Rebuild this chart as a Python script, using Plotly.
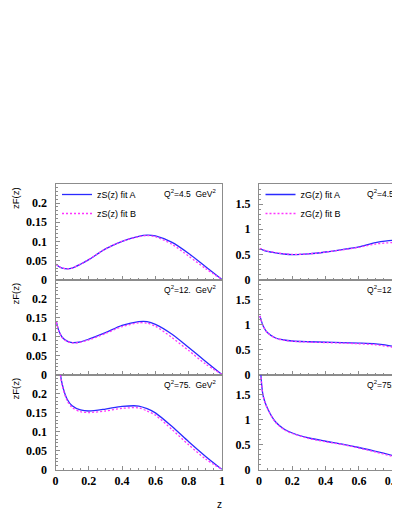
import plotly.graph_objects as go

# ---- data ----
q2_labels = ["Q<sup>2</sup>=4.5  GeV<sup>2</sup>",
             "Q<sup>2</sup>=12.  GeV<sup>2</sup>",
             "Q<sup>2</sup>=75.  GeV<sup>2</sup>"]

# singlet (left column)
z_s = [0.005, 0.02, 0.04, 0.07, 0.1, 0.15, 0.2, 0.3, 0.4, 0.5, 0.55, 0.6, 0.7, 0.8, 0.9, 1.0]
zS_A_45 = [0.040, 0.034, 0.030, 0.028, 0.030, 0.040, 0.052, 0.080, 0.100, 0.113, 0.116, 0.114, 0.097, 0.068, 0.034, 0.0]
zS_B_45 = [0.040, 0.034, 0.030, 0.028, 0.030, 0.040, 0.052, 0.080, 0.100, 0.112, 0.115, 0.112, 0.092, 0.061, 0.029, 0.0]
zS_A_12 = [0.139, 0.115, 0.098, 0.088, 0.084, 0.086, 0.093, 0.110, 0.129, 0.139, 0.139, 0.132, 0.106, 0.071, 0.035, 0.0]
zS_B_12 = [0.138, 0.114, 0.097, 0.087, 0.083, 0.085, 0.091, 0.108, 0.126, 0.136, 0.135, 0.127, 0.097, 0.063, 0.028, 0.0]
zS_A_75 = [0.400, 0.285, 0.225, 0.185, 0.168, 0.157, 0.154, 0.159, 0.166, 0.167, 0.160, 0.149, 0.113, 0.073, 0.035, 0.0]
zS_B_75 = [0.395, 0.280, 0.222, 0.181, 0.163, 0.152, 0.150, 0.154, 0.161, 0.162, 0.154, 0.143, 0.105, 0.065, 0.028, 0.0]

# gluon (right column)
z_g = [0.005, 0.01, 0.025, 0.05, 0.1, 0.15, 0.2, 0.3, 0.4, 0.5, 0.6, 0.7, 0.8, 0.86]
zG_A_45 = [0.61, 0.607, 0.585, 0.56, 0.53, 0.507, 0.495, 0.51, 0.547, 0.595, 0.65, 0.735, 0.78, 0.762]
zG_B_45 = [0.62, 0.615, 0.59, 0.565, 0.535, 0.512, 0.50, 0.51, 0.545, 0.59, 0.64, 0.705, 0.735, 0.73]
zG_A_12 = [1.17, 1.12, 0.97, 0.84, 0.73, 0.69, 0.67, 0.655, 0.645, 0.637, 0.628, 0.612, 0.565, 0.50]
zG_B_12 = [1.17, 1.115, 0.965, 0.835, 0.725, 0.685, 0.665, 0.648, 0.638, 0.628, 0.615, 0.595, 0.545, 0.49]
zG_A_75 = [2.4, 1.95, 1.47, 1.23, 0.95, 0.81, 0.73, 0.63, 0.565, 0.507, 0.44, 0.362, 0.28, 0.215]
zG_B_75 = [2.4, 1.95, 1.47, 1.22, 0.94, 0.80, 0.72, 0.62, 0.555, 0.50, 0.43, 0.35, 0.265, 0.205]

left_A = [zS_A_45, zS_A_12, zS_A_75]
left_B = [zS_B_45, zS_B_12, zS_B_75]
right_A = [zG_A_45, zG_A_12, zG_A_75]
right_B = [zG_B_45, zG_B_12, zG_B_75]

W, H = 400, 518
BLUE = "#2a2aff"
MAGENTA = "#ff33ff"
FRAME = "#8c8c8c"

# pixel geometry of the panels (figure coords; the page body adds an 8px offset)
col_x = [(47.5, 214.0), (251.0, 400.0)]
row_y = [(176.0, 271.5), (271.5, 366.5), (366.5, 461.5)]
unit_px = col_x[0][1] - col_x[0][0]

fig = go.Figure()
layout = {}

tickfont = dict(family="Times New Roman, Liberation Serif, serif", size=12,
                color="black", weight="bold")

for r in range(3):
    for c in range(2):
        k = r * 2 + c + 1
        xn = "x" if k == 1 else f"x{k}"
        yn = "y" if k == 1 else f"y{k}"
        x0, x1 = col_x[c]
        ytop, ybot = row_y[r]

        if c == 0:
            za, ya, yb = z_s, left_A[r], left_B[r]
            name_a, name_b, leg = "zS(z) fit A", "zS(z) fit B", "legend"
        else:
            za, ya, yb = z_g, right_A[r], right_B[r]
            name_a, name_b, leg = "zG(z) fit A", "zG(z) fit B", "legend2"

        fig.add_trace(go.Scatter(
            x=za, y=ya, xaxis=xn, yaxis=yn, mode="lines", name=name_a,
            line=dict(color=BLUE, width=1.3, shape="spline", smoothing=0.8),
            showlegend=(r == 0), legend=leg))
        fig.add_trace(go.Scatter(
            x=za, y=yb, xaxis=xn, yaxis=yn, mode="lines", name=name_b,
            line=dict(color=MAGENTA, width=1.3, dash="2px,2px", shape="spline", smoothing=0.8),
            showlegend=(r == 0), legend=leg))

        xkey = "xaxis" if k == 1 else f"xaxis{k}"
        ykey = "yaxis" if k == 1 else f"yaxis{k}"
        xmax = (x1 - x0) / unit_px
        layout[xkey] = dict(
            domain=[x0 / W, x1 / W], anchor=yn, range=[0, xmax], automargin=False,
            showline=True, mirror=True, linecolor=FRAME, linewidth=1,
            showgrid=False, zeroline=False,
            ticks="inside", ticklen=4, tickcolor=FRAME,
            minor=dict(ticks="inside", ticklen=2, tickcolor=FRAME, dtick=0.05, tick0=0),
            showticklabels=(r == 2), tickfont=tickfont, ticklabeloverflow="allow",
            tickvals=[0, 0.2, 0.4, 0.6, 0.8, 1.0], ticktext=["0", "0.2", "0.4", "0.6", "0.8", "1"])
        if c == 0:
            yr = [0, 0.25]
            tv = [0, 0.05, 0.1, 0.15, 0.2]
            tt = ["0", "0.05", "0.1", "0.15", "0.2"]
            mdt = 0.01
        else:
            yr = [0, 1.9]
            tv = [0, 0.5, 1.0, 1.5]
            tt = ["0", "0.5", "1", "1.5"]
            mdt = 0.1
        layout[ykey] = dict(
            domain=[1 - ybot / H, 1 - ytop / H], anchor=xn, range=yr, automargin=False,
            showline=True, mirror=(c == 0), linecolor=FRAME, linewidth=1,
            showgrid=False, zeroline=False,
            ticks="inside", ticklen=4, tickcolor=FRAME,
            minor=dict(ticks="inside", ticklen=2, tickcolor=FRAME, dtick=mdt, tick0=0),
            tickvals=tv, ticktext=tt, tickfont=tickfont, ticklabelstandoff=5,
            ticklabeloverflow="allow")

annotations = []
for r in range(3):
    ytop = row_y[r][0]
    # Q^2 labels
    for c in range(2):
        annotations.append(dict(
            xref="paper", yref="paper", x=(col_x[c][0] + 106.0) / W, y=1 - (ytop + 9.5) / H,
            xanchor="left", yanchor="middle", showarrow=False, text=q2_labels[r],
            font=dict(family="Liberation Sans", size=8.5, color="black")))
    # y title on the left column
    annotations.append(dict(
        xref="paper", yref="paper", x=7 / W, y=1 - (ytop + 1) / H,
        xanchor="center", yanchor="top", showarrow=False, text="zF(z)", textangle=-90,
        font=dict(family="Liberation Sans", size=9.5, color="black")))

annotations.append(dict(
    xref="paper", yref="paper", x=211 / W, y=1 - 496 / H,
    xanchor="center", yanchor="middle", showarrow=False, text="z",
    font=dict(family="Liberation Sans", size=10, color="black")))

legend_style = dict(font=dict(family="Liberation Sans", size=9, color="black"),
                    bgcolor="rgba(0,0,0,0)", borderwidth=0, xanchor="left", yanchor="top",
                    itemwidth=30, tracegroupgap=0)

fig.update_layout(
    template="none",
    width=W, height=H,
    margin=dict(l=0, r=0, t=0, b=0, autoexpand=False),
    paper_bgcolor="white", plot_bgcolor="white",
    annotations=annotations,
    legend=dict(x=49 / W, y=1 - 172 / H, **legend_style),
    legend2=dict(x=(49 + 203.5) / W, y=1 - 172 / H, **legend_style),
    **layout)

fig.write_html("out.html")
